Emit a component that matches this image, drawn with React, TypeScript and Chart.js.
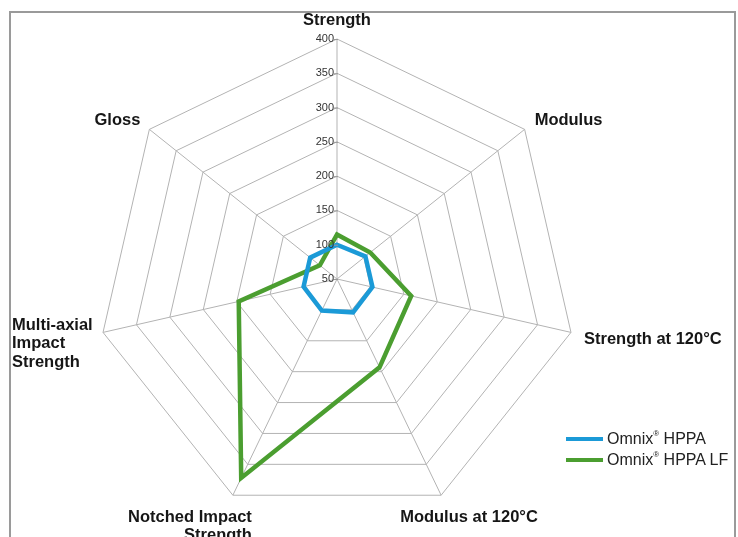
import React, { useEffect, useRef } from 'react';
import { Chart, registerables } from 'chart.js';

Chart.register(...registerables);

// ---- data ----
const categories: string[][] = [
  ['Strength'],
  ['Modulus'],
  ['Strength at 120°C'],
  ['Modulus at 120°C'],
  ['Notched Impact', 'Strength'],
  ['Multi-axial', 'Impact', 'Strength'],
  ['Gloss'],
];
const seriesNames = ['Omnix® HPPA', 'Omnix® HPPA LF'];
const hppaValues = [100, 103, 103, 104, 101, 100, 100];
const hppaLfValues = [115, 112, 161, 193, 372, 197, 82];
const tickValues = [50, 100, 150, 200, 250, 300, 350, 400];
const seriesColors = ['#1b9ad7', '#4b9e30'];

// ---- label placement (style, relative to each axis end point) ----
const labelLayout: { dx: number; dy: number; align: CanvasTextAlign }[] = [
  { dx: 0, dy: -19, align: 'center' },
  { dx: 10, dy: -9, align: 'left' },
  { dx: 13, dy: 7, align: 'left' },
  { dx: -41, dy: 22, align: 'left' },
  { dx: 19, dy: 22, align: 'right' },
  { dx: -91, dy: -7, align: 'left' },
  { dx: -9, dy: -9, align: 'right' },
];

const labelPlugin = {
  id: 'customLabels',
  afterDraw(chart: any) {
    const scale = chart.scales.r;
    const ctx: CanvasRenderingContext2D = chart.ctx;
    ctx.save();
    // axis labels
    ctx.font = 'bold 16.5px "Liberation Sans", Arial, sans-serif';
    ctx.fillStyle = '#161616';
    ctx.textBaseline = 'middle';
    categories.forEach((lines, i) => {
      const p = scale.getPointPosition(i, scale.drawingArea);
      const l = labelLayout[i];
      ctx.textAlign = l.align;
      lines.forEach((line, j) => {
        ctx.fillText(line, p.x + l.dx, p.y + l.dy + j * 18.5);
      });
    });
    // tick labels
    ctx.font = '11px "Liberation Sans", Arial, sans-serif';
    ctx.fillStyle = '#333333';
    ctx.textAlign = 'right';
    ctx.strokeStyle = '#999999';
    ctx.lineWidth = 1;
    tickValues.forEach((v) => {
      const y = scale.yCenter - scale.getDistanceFromCenterForValue(v);
      ctx.fillText(String(v), scale.xCenter - 3, y);
      ctx.beginPath();
      ctx.moveTo(scale.xCenter - 3, y + 0.5);
      ctx.lineTo(scale.xCenter + 1, y + 0.5);
      ctx.stroke();
    });
    ctx.restore();
  },
};

function LegendName({ name }: { name: string }) {
  const parts = name.split('®');
  return (
    <span>
      {parts[0]}
      {parts.length > 1 ? <sup style={{ fontSize: 8, verticalAlign: 'top', position: 'relative', top: -1 }}>®</sup> : null}
      {parts.length > 1 ? parts[1] : null}
    </span>
  );
}

export default function App() {
  const canvasRef = useRef<HTMLCanvasElement | null>(null);

  useEffect(() => {
    if (!canvasRef.current) return;
    const chart = new Chart(canvasRef.current, {
      type: 'radar',
      data: {
        labels: categories,
        datasets: [
          {
            label: seriesNames[0],
            data: hppaValues,
            borderColor: seriesColors[0],
            borderWidth: 4.5,
            fill: false,
            pointRadius: 0,
            borderJoinStyle: 'miter',
          },
          {
            label: seriesNames[1],
            data: hppaLfValues,
            borderColor: seriesColors[1],
            borderWidth: 4.5,
            fill: false,
            pointRadius: 0,
            borderJoinStyle: 'miter',
          },
        ],
      },
      options: {
        animation: false,
        responsive: false,
        devicePixelRatio: 1,
        layout: { padding: { left: 97, right: 161, top: 39, bottom: 18 } },
        plugins: { legend: { display: false }, tooltip: { enabled: false } },
        scales: {
          r: {
            min: tickValues[0],
            max: tickValues[tickValues.length - 1],
            ticks: { stepSize: 50, display: false, showLabelBackdrop: false },
            pointLabels: { display: false },
            grid: { color: '#b3b3b3', lineWidth: 1 },
            angleLines: { color: '#b3b3b3', lineWidth: 1 },
          },
        },
      },
      plugins: [labelPlugin],
    });
    return () => chart.destroy();
  }, []);

  return (
    <div style={{ position: 'fixed', left: 0, top: 0, width: 738, height: 537, overflow: 'hidden', background: '#fff' }}>
      <canvas ref={canvasRef} width={738} height={537} style={{ position: 'absolute', left: 0, top: 0 }} />
      <div
        style={{
          position: 'absolute',
          left: 9,
          top: 11,
          width: 727,
          height: 560,
          boxSizing: 'border-box',
          border: '2px solid #9a9a9a',
          overflow: 'hidden',
          pointerEvents: 'none',
        }}
      >
        {seriesNames.map((name, i) => (
          <div
            key={name}
            style={{
              position: 'absolute',
              left: 566 - 11,
              top: 428 - 13 + i * 21,
              height: 22,
              display: 'flex',
              alignItems: 'center',
              whiteSpace: 'nowrap',
              fontFamily: '"Liberation Sans", Arial, sans-serif',
              fontSize: 16,
              color: '#222',
            }}
          >
            <span style={{ display: 'inline-block', width: 37, height: 4, background: seriesColors[i], marginRight: 4 }} />
            <LegendName name={name} />
          </div>
        ))}
      </div>
    </div>
  );
}
